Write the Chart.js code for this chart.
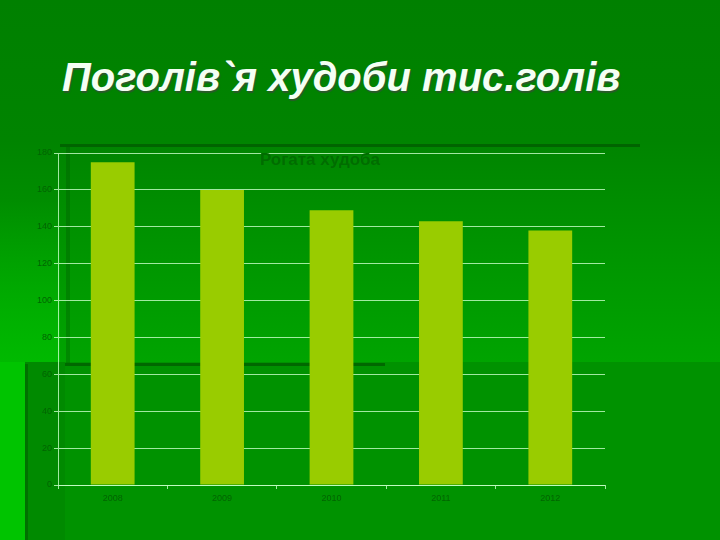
<!DOCTYPE html>
<html>
<head>
<meta charset="utf-8">
<script src="https://cdn.jsdelivr.net/npm/chart.js@4"></script>
<style>
    body { margin: 0; }
    #slide {
        position: relative; width: 720px; height: 540px; overflow: hidden;
        background: linear-gradient(to bottom, #008000 0px, #008400 140px, #009600 260px, #00a400 362px);
    }
    .box { position: absolute; }
    #heading {
        position: absolute; left: 62px; top: 55px; margin: 0;
        font: italic bold 40px "Liberation Sans", Arial, sans-serif;
        color: #f4fff4; text-shadow: 1px 2px 1px #2a5a2a;
    }
    #subtitle {
        position: absolute; left: 200px; width: 240px; top: 150px; text-align: center;
        font: bold 17px "Liberation Sans", Arial, sans-serif; color: #006c00;
    }
    #chart-wrap { position: absolute; left: 20px; top: 145px; width: 600px; height: 370px; }
</style>
</head>
<body>
<div id="slide">
    <div class="box" style="left:0;top:200px;width:60px;height:162px;background:linear-gradient(to bottom, rgba(0,200,0,0) 0%, rgba(0,200,0,0.6) 100%)"></div>
    <div class="box" style="left:0;top:362px;width:720px;height:178px;background:#009200"></div>
    <div class="box" style="left:0;top:362px;width:25px;height:178px;background:#00c400"></div>
    <div class="box" style="left:25px;top:362px;width:40px;height:178px;background:#008a00"></div>
    <div class="box" style="left:25px;top:364px;width:3px;height:176px;background:#007000"></div>
    <div class="box" style="left:60px;top:144px;width:580px;height:3px;background:#006400"></div>
    <div class="box" style="left:66px;top:147px;width:4px;height:216px;background:rgba(0,90,0,0.35)"></div>
    <div class="box" style="left:65px;top:363px;width:320px;height:3px;background:#006800"></div>
    <h1 id="heading">Поголів`я худоби тис.голів</h1>
    <div id="chart-wrap"><canvas id="cattle-chart"></canvas></div>
    <div id="subtitle">Рогата худоба</div>
</div>
<script>
// Data
const years = ['2008', '2009', '2010', '2011', '2012'];
const cattle = [175, 160, 149, 143, 138];
const yTicks = [0, 20, 40, 60, 80, 100, 120, 140, 160, 180];

const tickFont = { family: 'Liberation Sans, Arial, sans-serif', size: 9 };

new Chart(document.getElementById('cattle-chart'), {
    type: 'bar',
    data: {
        labels: years,
        datasets: [{
            label: 'Рогата худоба',
            data: cattle,
            backgroundColor: '#99cc00',
            borderWidth: 0,
            barPercentage: 0.4,
            categoryPercentage: 1
        }]
    },
    options: {
        responsive: true,
        maintainAspectRatio: false,
        animation: false,
        layout: { padding: { top: 8, right: 15, bottom: 0, left: 0 } },
        plugins: {
            legend: { display: false },
            tooltip: { enabled: false }
        },
        scales: {
            y: {
                min: 0,
                max: yTicks[yTicks.length - 1],
                afterBuildTicks: axis => { axis.ticks = yTicks.map(v => ({ value: v })); },
                afterFit: axis => { axis.width = 38; },
                ticks: { color: '#006400', font: tickFont, padding: 2 },
                grid: { color: 'rgba(200,255,200,0.8)', lineWidth: 1, tickLength: 4 },
                border: { color: 'rgba(200,255,200,0.8)' }
            },
            x: {
                afterFit: axis => { axis.height = 30; },
                ticks: { color: '#006400', font: tickFont, padding: 4 },
                grid: { color: 'rgba(200,255,200,0.8)', drawOnChartArea: false, tickLength: 4 },
                border: { color: 'rgba(200,255,200,0.8)' }
            }
        }
    }
});
</script>
</body>
</html>
